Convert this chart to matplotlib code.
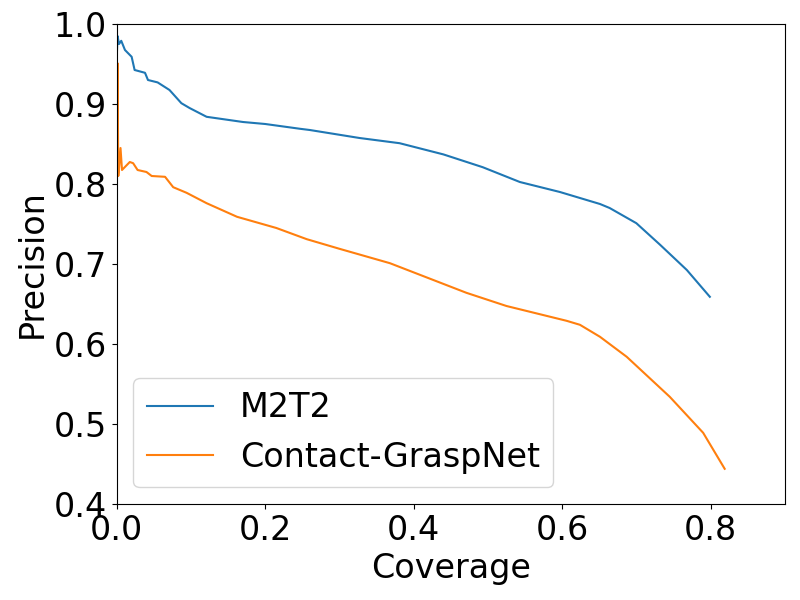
import matplotlib
matplotlib.use("Agg")
import matplotlib.pyplot as plt

m2t2_cov = [0.0, 0.001, 0.003, 0.006, 0.011, 0.02, 0.024, 0.038, 0.042, 0.055, 0.071, 0.087,
            0.098, 0.121, 0.17, 0.2, 0.247, 0.26, 0.327, 0.381, 0.44, 0.493, 0.543, 0.597,
            0.651, 0.664, 0.70, 0.732, 0.768, 0.799]
m2t2_prec = [0.96, 0.985, 0.975, 0.979, 0.9675, 0.959, 0.9425, 0.939, 0.93, 0.927, 0.9175, 0.901,
             0.895, 0.884, 0.8775, 0.875, 0.869, 0.8675, 0.8575, 0.851, 0.837, 0.821, 0.8025, 0.79,
             0.775, 0.77, 0.751, 0.724, 0.6925, 0.659]

cgn_cov = [0.0, 0.001, 0.002, 0.003, 0.005, 0.007, 0.0175, 0.022, 0.028, 0.04, 0.047, 0.065,
           0.076, 0.094, 0.121, 0.162, 0.215, 0.256, 0.3, 0.368, 0.471, 0.525, 0.606, 0.624,
           0.651, 0.687, 0.745, 0.79, 0.819]
cgn_prec = [0.82, 0.951, 0.81, 0.82, 0.845, 0.8175, 0.8275, 0.826, 0.8175, 0.815, 0.81, 0.809,
            0.796, 0.789, 0.776, 0.759, 0.745, 0.731, 0.719, 0.701, 0.664, 0.6475, 0.629, 0.624,
            0.609, 0.584, 0.534, 0.489, 0.444]

fig = plt.figure(figsize=(8, 6), dpi=100)
ax = fig.add_axes([0.146, 0.16, 0.835, 0.80])
ax.plot(m2t2_cov, m2t2_prec, color="#1f77b4", label="M2T2")
ax.plot(cgn_cov, cgn_prec, color="#ff7f0e", label="Contact-GraspNet")
ax.set_xlim(0, 0.9)
ax.set_ylim(0.4, 1.0)
ax.set_xticks([0.0, 0.2, 0.4, 0.6, 0.8])
ax.set_yticks([0.4, 0.5, 0.6, 0.7, 0.8, 0.9, 1.0])
ax.tick_params(labelsize=24)
ax.set_xlabel("Coverage", fontsize=24)
ax.set_ylabel("Precision", fontsize=24)
ax.legend(loc="lower left", fontsize=24)
fig.savefig("out.png", dpi=100)
